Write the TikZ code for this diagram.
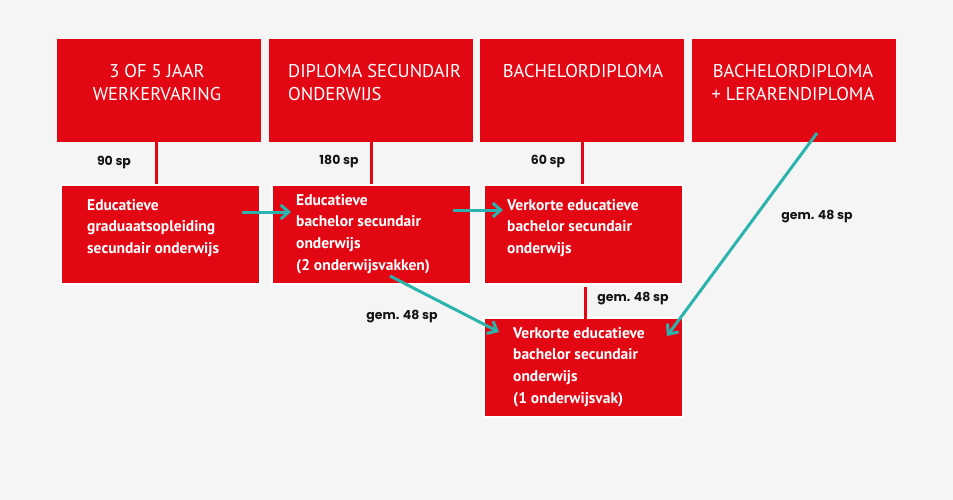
\documentclass[tikz,border=0pt]{standalone}
\usepackage{fontspec}
\setmainfont{PT Sans}
\newfontfamily\labfont{Poppins}
\usetikzlibrary{arrows.meta,calc}
\definecolor{bgc}{HTML}{F5F5F5}
\definecolor{redc}{HTML}{E30613}
\definecolor{tealc}{HTML}{2BB3AE}
\definecolor{labc}{HTML}{151515}
\begin{document}
\begin{tikzpicture}[x=1pt,y=-1pt,
  topbox/.style={fill=redc,draw=none,anchor=north west,minimum width=204pt,minimum height=103pt,inner sep=0pt},
  midbox/.style={fill=redc,draw=white,line width=2pt,anchor=north west,minimum width=199pt,minimum height=99pt,inner sep=0pt},
  toptxt/.style={text=white,font=\fontsize{18.5}{23}\selectfont,inner sep=0pt},
  boxtxt/.style={text=white,font=\bfseries\fontsize{15.5}{21.7}\selectfont,align=left,inner sep=0pt,anchor=north west},
  lab/.style={text=labc,font=\labfont\bfseries\fontsize{12.5}{14}\selectfont,inner sep=0pt},
  redline/.style={draw=redc,line width=3pt},
  arr/.style={draw=tealc,line width=3pt,-{Straight Barb[length=8pt,width=14pt]}}
]
\fill[bgc] (0,0) rectangle (953,500);
\useasboundingbox (0,0) rectangle (953,500);

% top row
\node[topbox] (t1) at (57,39) {};
\node[topbox] (t2) at (269,39) {};
\node[topbox] (t3) at (480,39) {};
\node[topbox] (t4) at (692,39) {};
\node[toptxt,anchor=north,align=center] (tt1) at (157,64.5) {3 OF 5 JAAR\\WERKERVARING};
\node[toptxt,anchor=north west,align=left] (tt2) at (288,64.5) {DIPLOMA SECUNDAIR\\ONDERWIJS};
\node[toptxt,anchor=north,align=center] (tt3) at (583,64.5) {BACHELORDIPLOMA};
\node[toptxt,anchor=north,align=center] (tt4) at (793,64.5) {BACHELORDIPLOMA\\+ LERARENDIPLOMA};

% middle row
\node[midbox] (a) at (60,184) {};
\node[midbox] (b) at (271,184) {};
\node[midbox] (c) at (483,184) {};
\node[midbox] (d) at (483,317) {};
\node[boxtxt] (ta) at (87,199) {Educatieve\\graduaatsopleiding\\secundair onderwijs};
\node[boxtxt] (tb) at (296,194) {Educatieve\\bachelor secundair\\onderwijs\\(2 onderwijsvakken)};
\node[boxtxt] (tc) at (507,199) {Verkorte educatieve\\bachelor secundair\\onderwijs};
\node[boxtxt] (td) at (513,327) {Verkorte educatieve\\bachelor secundair\\onderwijs\\(1 onderwijsvak)};

% red connectors
\draw[redline] ([xshift=-3pt]t1.south) -- ([xshift=-3pt]t1.south |- a.north);
\draw[redline] (t2.south) -- (t2.south |- b.north);
\draw[redline] (t3.south) -- (t3.south |- c.north);
\draw[redline] ([xshift=2pt,yshift=-2pt]c.south) -- ([xshift=2pt,yshift=-2pt]c.south |- d.north);

% labels
\node[lab] (l1) at (114,162) {90 sp};
\node[lab] (l2) at (339,162) {180 sp};
\node[lab] (l3) at (548,162) {60 sp};
\node[lab] (l4) at (817,217) {gem. 48 sp};
\node[lab] (l5) at (402,317) {gem. 48 sp};
\node[lab] (l6) at (633,299) {gem. 48 sp};

% teal arrows
\coordinate (a1s) at (242,212);
\coordinate (a1e) at (291,212);
\coordinate (a2s) at (453,210);
\coordinate (a2e) at (503,210);
\coordinate (a3s) at (390,276);
\coordinate (a3e) at (499,332);
\coordinate (a4s) at (817,133);
\coordinate (a4e) at (667,336);
\draw[arr] (a1s) -- (a1e);
\draw[arr] (a2s) -- (a2e);
\draw[arr] (a3s) -- (a3e);
\draw[arr] (a4s) -- (a4e);
\end{tikzpicture}
\end{document}
